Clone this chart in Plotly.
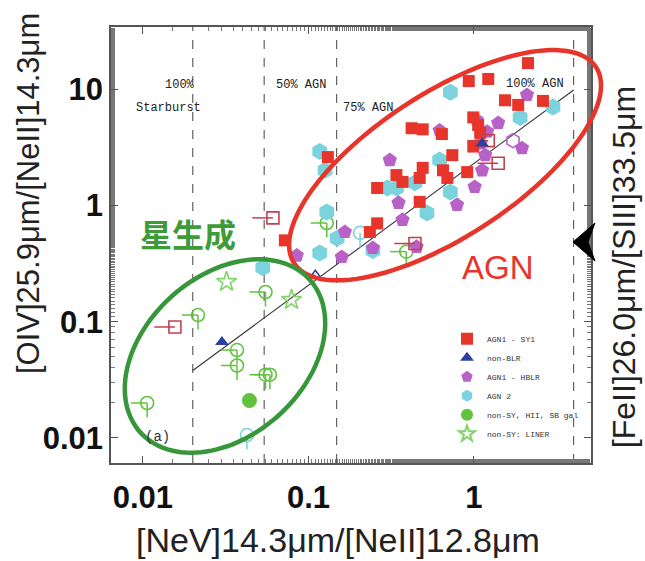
import numpy as np
import plotly.graph_objects as go

# x: [NeV]14.3um/[NeII]12.8um, y: [OIV]25.9um/[NeII]14.3um
sy1_x = [2.12, 0.93, 1.22, 1.54, 1.85, 2.61, 0.99, 1.06, 1.09, 0.42, 0.49, 0.64, 0.99, 0.74,
         0.131, 0.49, 0.65, 0.91, 0.34, 0.47, 0.69, 0.26, 0.37, 0.47, 0.26, 0.235, 0.072]
sy1_y = [16.7, 11.7, 12.2, 8.0, 7.3, 7.9, 5.7, 4.9, 4.2, 4.6, 4.5, 4.1, 3.2, 2.7,
         2.6, 2.1, 2.0, 1.93, 1.82, 1.72, 1.72, 1.41, 1.59, 1.07, 0.70, 0.59, 0.50]
sy1_lim_x = [0.061, 0.0156, 0.44, 1.40, 1.22]
sy1_lim_y = [0.78, 0.090, 0.47, 2.3, 3.6]

nonblr_x = [1.12, 0.030]
nonblr_y = [3.4, 0.067]
nonblr_lim_x = [0.11]
nonblr_lim_y = [0.25]

hblr_x = [2.09, 1.04, 1.40, 0.62, 1.20, 1.09, 1.95, 1.17, 1.12, 0.31, 1.01, 0.35, 0.37, 0.79,
          0.166, 0.159, 0.245, 0.085, 0.45]
hblr_y = [8.9, 5.4, 5.1, 4.4, 4.3, 3.4, 3.1, 2.7, 2.0, 2.45, 1.44, 1.05, 0.75, 1.01,
          0.59, 0.36, 0.43, 0.37, 0.44]
hblr_lim_x = [1.72]
hblr_lim_y = [3.6]

agn2_x = [0.72, 3.0, 1.90, 0.117, 0.126, 0.62, 0.30, 0.129, 0.149, 0.117, 0.245, 0.34, 0.44,
          0.52, 0.72, 0.053]
agn2_y = [9.4, 7.0, 5.7, 2.9, 2.0, 2.45, 1.41, 0.875, 0.52, 0.39, 0.41, 1.41, 1.56,
          0.86, 1.30, 0.29]
agn2_lim_x = [0.205, 0.0425]
agn2_lim_y = [0.58, 0.0106]

hii_x = [0.044]
hii_y = [0.021]
hii_lim_x = [0.0215, 0.055, 0.037, 0.037, 0.055, 0.0585, 0.0106, 0.129, 0.39]
hii_lim_y = [0.114, 0.180, 0.057, 0.042, 0.035, 0.035, 0.020, 0.705, 0.40]

liner_x = [0.032, 0.079]
liner_y = [0.22, 0.154]

# AGN-fraction boundaries and starburst-AGN mixing line
frac_x = [0.02, 0.054, 0.148, 4.0]
mix_x = [0.02, 4.0]
mix_y = [0.038, 9.8]

x_ticks = [0.01, 0.1, 1]
x_tick_text = ["0.01", "0.1", "1"]
y_ticks = [0.01, 0.1, 1, 10]
y_tick_text = ["0.01", "0.1", "1", "10"]

RED = "#e8352b"
PURPLE = "#b862c8"
CYAN = "#7ad3dd"
BLUE = "#2b3fa0"
GREEN = "#62c23e"
LGREEN = "#80d468"
PINK = "#c2414f"
SANS = "Liberation Sans, Arial, sans-serif"
MONO = "Liberation Mono, Courier New, monospace"

fig = go.Figure()

y_lo, y_hi = 10 ** -2.215, 10 ** 1.533
for fx in frac_x:
    fig.add_trace(go.Scatter(x=[fx, fx], y=[y_lo, y_hi], mode="lines",
                             line=dict(color="#555555", width=1.1, dash="dash"),
                             showlegend=False, hoverinfo="skip"))
fig.add_trace(go.Scatter(x=mix_x, y=mix_y, mode="lines",
                         line=dict(color="#333333", width=1.1),
                         showlegend=False, hoverinfo="skip"))


def limits(xs, ys, color, symbol, size, dx=0, dy=0, width=1.6):
    return go.Scatter(
        x=xs, y=ys, mode="markers", showlegend=False,
        marker=dict(symbol=symbol, size=size, color=color, line=dict(color=color, width=width)),
        error_x=dict(type="percent", symmetric=False, value=0, valueminus=dx,
                     color=color, thickness=1.5, width=0, visible=dx > 0),
        error_y=dict(type="percent", symmetric=False, value=0, valueminus=dy,
                     color=color, thickness=1.5, width=0, visible=dy > 0),
    )


fig.add_trace(limits(agn2_lim_x, agn2_lim_y, CYAN, "circle-open", 13, dx=0, dy=25))
fig.add_trace(limits(hii_lim_x, hii_lim_y, GREEN, "circle-open", 13, dx=20, dy=25))
fig.add_trace(limits(hblr_lim_x, hblr_lim_y, PURPLE, "hexagon-open", 14))
fig.add_trace(limits(nonblr_lim_x, nonblr_lim_y, BLUE, "triangle-up-open", 10, dx=15))

fig.add_trace(go.Scatter(x=agn2_x, y=agn2_y, mode="markers", name="AGN 2",
                         marker=dict(symbol="hexagon", size=17, color=CYAN)))
fig.add_trace(go.Scatter(x=hblr_x, y=hblr_y, mode="markers", name="AGN1 - HBLR",
                         marker=dict(symbol="pentagon", size=15, color=PURPLE)))
fig.add_trace(go.Scatter(x=sy1_x, y=sy1_y, mode="markers", name="AGN1 - SY1",
                         marker=dict(symbol="square", size=12, color=RED)))
fig.add_trace(limits(sy1_lim_x, sy1_lim_y, PINK, "square-open", 12, dx=25))
fig.add_trace(go.Scatter(x=nonblr_x, y=nonblr_y, mode="markers", name="non-BLR",
                         marker=dict(symbol="triangle-up", size=12, color=BLUE)))
fig.add_trace(go.Scatter(x=hii_x, y=hii_y, mode="markers", name="non-SY, HII, SB gal",
                         marker=dict(symbol="circle", size=15, color=GREEN)))
fig.add_trace(go.Scatter(x=liner_x, y=liner_y, mode="markers", name="non-SY: LINER",
                         marker=dict(symbol="star-open", size=15, color=LGREEN,
                                     line=dict(color=LGREEN, width=1.6))))

legend_order = ["AGN1 - SY1", "non-BLR", "AGN1 - HBLR", "AGN 2", "non-SY, HII, SB gal", "non-SY: LINER"]
for tr in fig.data:
    if tr.name in legend_order:
        tr.legendrank = legend_order.index(tr.name) + 1

# plot-area size in pixels, used for the ellipse outlines
W, H = 480, 436


def ellipse_path(cx, cy, a, b, ang_deg, n=120):
    t = np.linspace(0, 2 * np.pi, n)
    th = np.radians(ang_deg)
    px = a * np.cos(t) * np.cos(th) - b * np.sin(t) * np.sin(th)
    py = a * np.cos(t) * np.sin(th) + b * np.sin(t) * np.cos(th)
    xs = cx + px / W
    ys = cy + py / H
    return "M " + " L ".join(f"{x:.4f},{y:.4f}" for x, y in zip(xs, ys)) + " Z"


shapes = [
    dict(type="path", xref="paper", yref="paper", path=ellipse_path(0.696, 0.683, 180, 72, 33),
         line=dict(color="#e8352b", width=4.5)),
    dict(type="path", xref="paper", yref="paper", path=ellipse_path(0.2375, 0.2454, 114, 80, 42),
         line=dict(color="#36973a", width=4.5)),
    dict(type="path", xref="paper", yref="paper",
         path="M 0.9625,0.5069 L 1.0083,0.5505 L 0.9938,0.5069 L 1.0083,0.4633 Z",
         fillcolor="black", line=dict(color="black", width=1)),
]

annotations = [
    dict(text="100%", x=0.144, y=0.867),
    dict(text="Starburst", x=0.119, y=0.814),
    dict(text="50% AGN", x=0.396, y=0.867),
    dict(text="75% AGN", x=0.535, y=0.814),
    dict(text="100% AGN", x=0.883, y=0.869),
    dict(text="(a)", x=0.096, y=0.060, font=dict(size=14, family=MONO, color="#333")),
    dict(text="<b>星生成</b>", x=0.160, y=0.5275,
         font=dict(size=32, family="Noto Sans CJK SC", color="#3f9a3a")),
    dict(text="AGN", x=0.806, y=0.4495, font=dict(size=33, family=SANS, color="#e8352b")),
    dict(text="[OIV]25.9μm/[NeII]14.3μm", x=-0.173, y=0.619, textangle=-90,
         font=dict(size=31, family=SANS, color="#222")),
    dict(text="[NeV]14.3μm/[NeII]12.8μm", x=0.473, y=-0.177,
         font=dict(size=34, family=SANS, color="#222")),
    dict(text="[FeII]26.0μm/[SIII]33.5μm", x=1.069, y=0.4495, textangle=-90,
         font=dict(size=32, family=SANS, color="#222")),
]
for an in annotations:
    an.update(xref="paper", yref="paper", showarrow=False, xanchor="center", yanchor="middle")
    an.setdefault("font", dict(size=12, family=MONO, color="#222"))

axis_common = dict(
    type="log", showgrid=False, zeroline=False, showline=True, mirror="ticks",
    linecolor="#555555", linewidth=1.5, ticks="inside", ticklen=7, tickcolor="#555555",
    minor=dict(ticks="inside", ticklen=4, tickcolor="#777777", showgrid=False),
    tickfont=dict(size=31, family=SANS, color="#111"),
)

fig.update_layout(
    width=645, height=561,
    margin=dict(l=111, r=54, t=27, b=98),
    paper_bgcolor="white", plot_bgcolor="white",
    xaxis=dict(axis_common, range=[-2.193, 0.707], tickvals=x_ticks,
               ticktext=[f"<b>{t}</b>" for t in x_tick_text], ticklabelstandoff=6),
    yaxis=dict(axis_common, range=[-2.215, 1.533], tickvals=y_ticks,
               ticktext=[f"<b>{t}</b>" for t in y_tick_text]),
    shapes=shapes,
    annotations=annotations,
    legend=dict(x=0.70, y=0.318, xanchor="left", yanchor="top", bgcolor="rgba(0,0,0,0)",
                font=dict(size=8, family=MONO, color="#333"), itemsizing="constant",
                tracegroupgap=0),
    showlegend=True,
)

fig.write_html("out.html")
